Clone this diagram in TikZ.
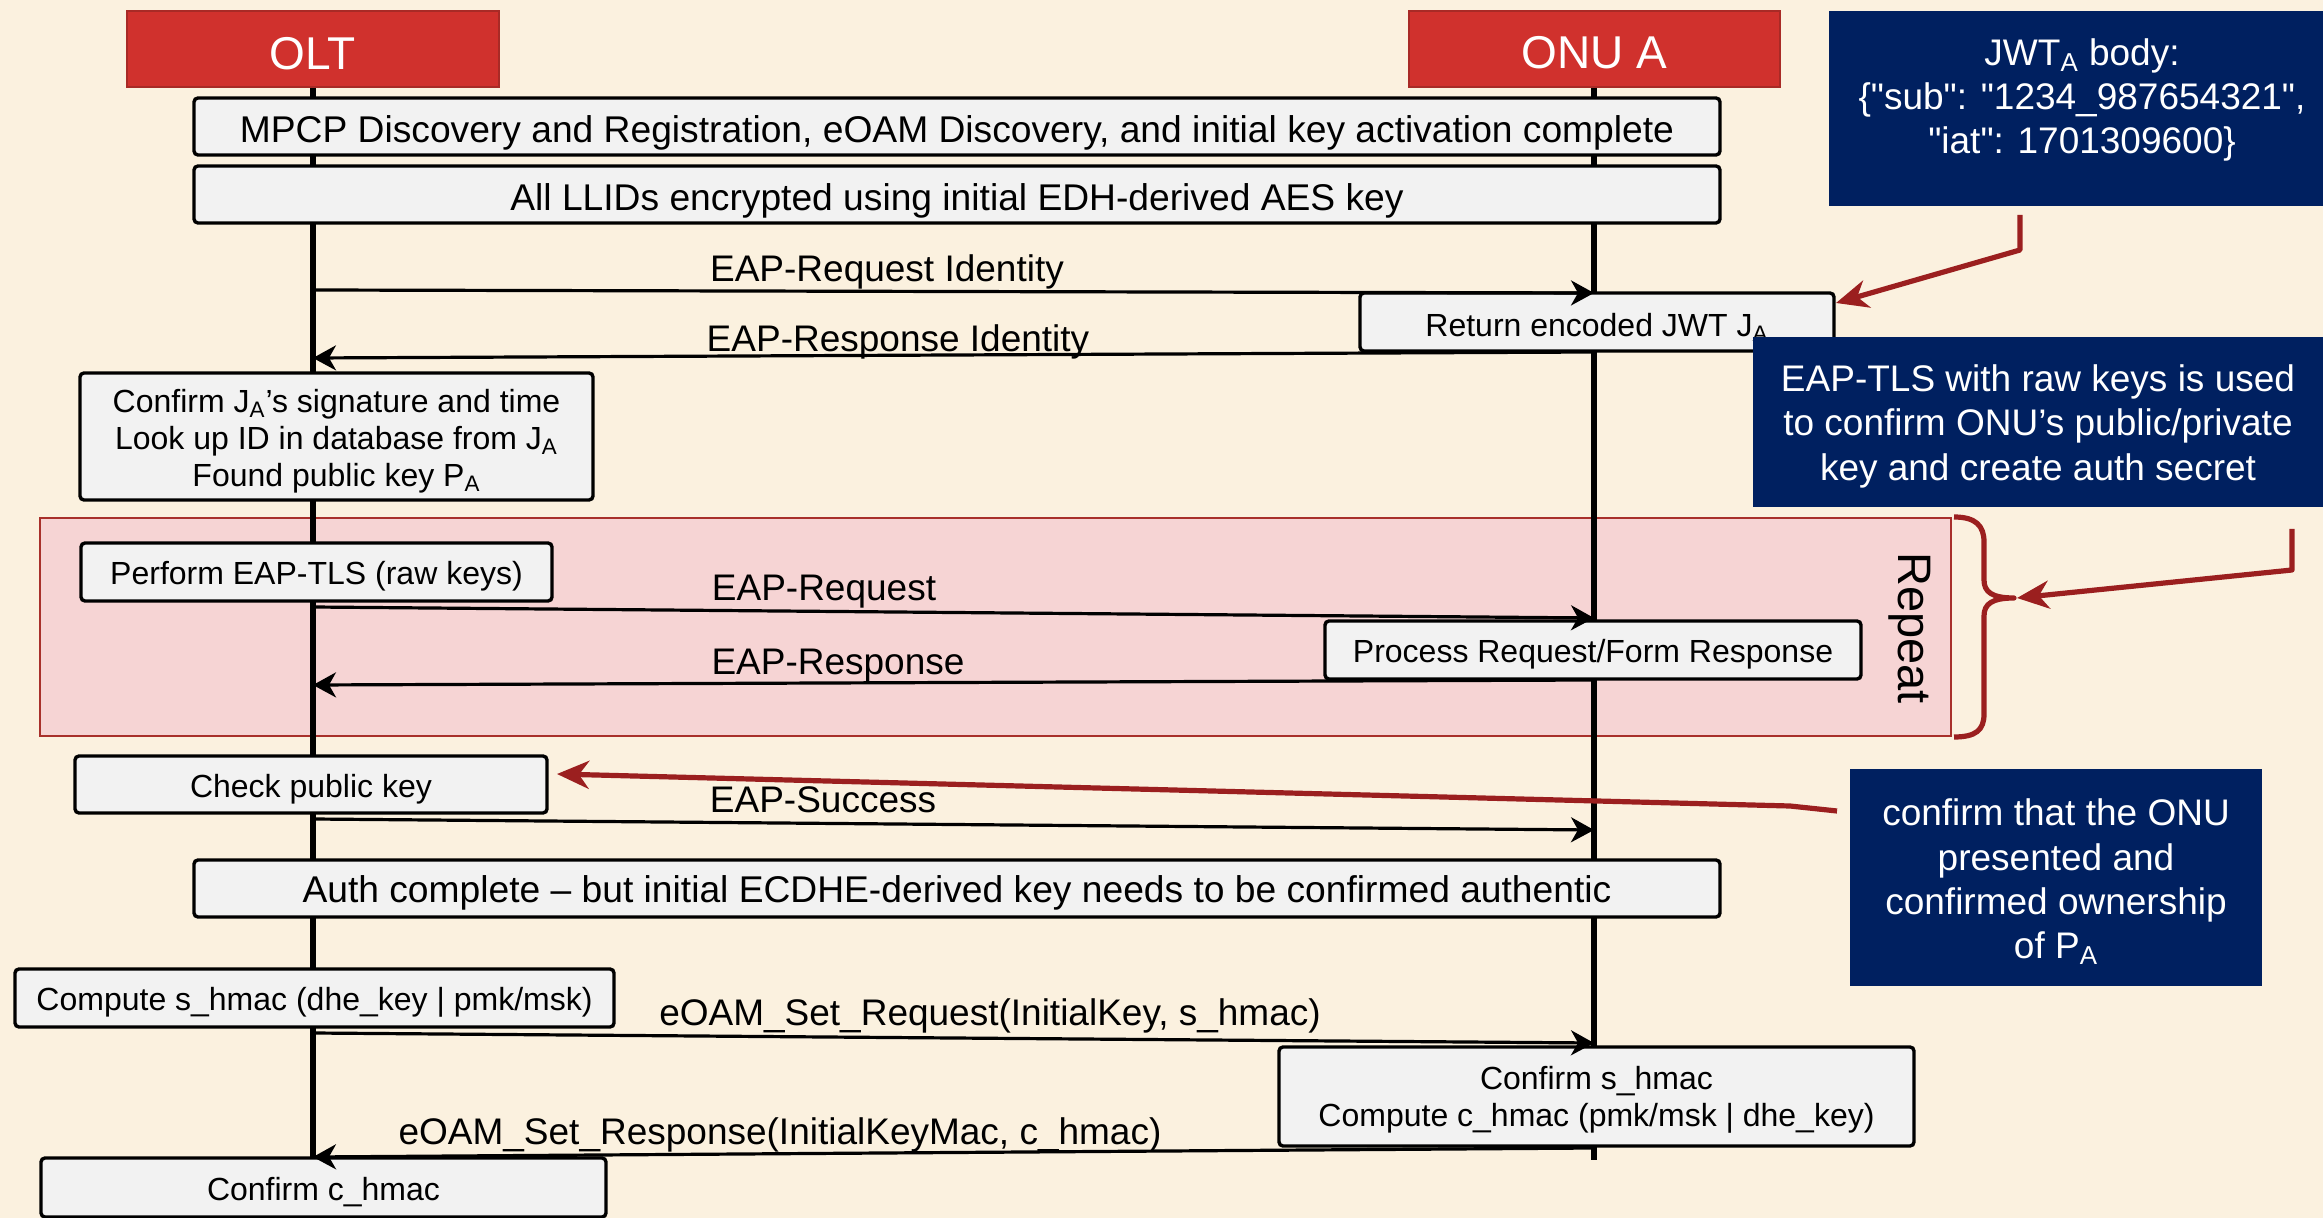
\documentclass[tikz,border=0pt]{standalone}
\usepackage{fontspec}
\setmainfont{Liberation Sans}[Ligatures=TeXOff]
\usetikzlibrary{arrows.meta}
\definecolor{bgcream}{HTML}{FBF1DF}
\definecolor{hdrred}{HTML}{D0312D}
\definecolor{hdredge}{HTML}{A82A26}
\definecolor{navyblue}{HTML}{002060}
\definecolor{boxgray}{HTML}{F2F2F2}
\definecolor{loopfill}{HTML}{F6D4D4}
\definecolor{loopedge}{HTML}{A8302B}
\definecolor{notered}{HTML}{9B1F1F}

\begin{document}
\begin{tikzpicture}[x=0.5pt,y=-0.5pt,
  actor/.style={fill=hdrred, draw=hdredge, line width=1pt, inner sep=0pt},
  actortext/.style={text=white, inner sep=0pt, font=\fontsize{23}{27}\selectfont},
  stepbox/.style={fill=boxgray, draw=black, line width=1.7pt, rounded corners=2pt, inner sep=0pt},
  steptext/.style={inner sep=0pt, align=center, font=\fontsize{16}{18.5}\selectfont},
  widetext/.style={steptext, font=\fontsize{18.6}{22}\selectfont},
  navybox/.style={fill=navyblue, draw=none, inner sep=0pt},
  navytext/.style={text=white, align=center, inner sep=0pt, font=\fontsize{18.5}{22.2}\selectfont},
  loopzone/.style={fill=loopfill, draw=loopedge, line width=1.3pt, inner sep=0pt},
  lifeline/.style={draw=black, line width=2.7pt},
  msg/.style={draw=black, line width=1.6pt, -{Stealth[length=11.5pt, width=12.5pt, inset=3.5pt]}},
  msglabel/.style={anchor=base, inner sep=0pt, font=\fontsize{18.5}{22}\selectfont},
  note/.style={draw=notered, line width=2.6pt, line join=round,
    -{Stealth[length=16pt, width=14pt, inset=5pt]}},
]
\useasboundingbox (0,0) rectangle (2323,1218);
\fill[bgcream] (0,0) rectangle (2323,1218);

% repeat zone
\node[loopzone, minimum width=955.5pt, minimum height=109pt] (rep) at (995.5,627) {};
\node[rotate=-90, inner sep=0pt, font=\fontsize{23.5}{28}\selectfont] (reptext) at (1910,628) {Repeat};

% actors and lifelines
\node[actor, minimum width=186pt, minimum height=38pt] (olt) at (313,49) {};
\node[actor, minimum width=185.5pt, minimum height=38pt] (onu) at (1594.5,49) {};
\node[actortext, yshift=-2.2pt] (oltT) at (olt) {OLT};
\node[actortext, yshift=-1.8pt] (onuT) at (onu) {ONU A};
\coordinate (oltEnd) at (313,1158);
\coordinate (onuEnd) at (1594,1160);
\draw[lifeline] (olt.south) -- (oltEnd);
\draw[lifeline] (onu.south -| onuEnd) -- (onuEnd);

% steps
\node[stepbox, minimum width=763pt, minimum height=28.5pt] (mpcp) at (957,126.5) {};
\node[widetext, yshift=-3pt] (mpcpT) at (mpcp)
  {MPCP Discovery and Registration, eOAM Discovery, and initial key activation complete};
\node[stepbox, minimum width=763pt, minimum height=28.5pt] (llid) at (957,194.5) {};
\node[widetext, yshift=-3pt] (llidT) at (llid)
  {All LLIDs encrypted using initial EDH-derived AES key};
\node[stepbox, minimum width=237pt, minimum height=29pt] (ret) at (1597,322) {};
\node[steptext, yshift=-2.8pt] (retT) at (ret) {Return encoded JWT J\textsubscript{A}};
\node[stepbox, minimum width=256.5pt, minimum height=63.5pt] (conf) at (336.5,436.5) {};
\node[steptext, yshift=-2.2pt] (confT) at (conf)
  {Confirm J\textsubscript{A}’s signature and time\\Look up ID in database from J\textsubscript{A}\\Found public key P\textsubscript{A}};
\node[stepbox, minimum width=235.5pt, minimum height=29pt] (perf) at (316.5,572) {};
\node[steptext, yshift=-2.2pt] (perfT) at (perf) {Perform EAP-TLS (raw keys)};
\node[stepbox, minimum width=268pt, minimum height=29pt] (proc) at (1593,650) {};
\node[steptext, yshift=-2.2pt] (procT) at (proc) {Process Request/Form Response};
\node[stepbox, minimum width=236pt, minimum height=28.5pt] (check) at (311,784.5) {};
\node[steptext, yshift=-2.2pt] (checkT) at (check) {Check public key};
\node[stepbox, minimum width=763pt, minimum height=28.5pt] (auth) at (957,888.5) {};
\node[widetext, yshift=-2.2pt] (authT) at (auth)
  {Auth complete – but initial ECDHE-derived key needs to be confirmed authentic};
\node[stepbox, minimum width=299.5pt, minimum height=29pt] (comp) at (314.5,998) {};
\node[steptext, yshift=-2.2pt] (compT) at (comp) {Compute s\_hmac (dhe\_key | pmk/msk)};
\node[stepbox, minimum width=317.5pt, minimum height=49.5pt] (confs) at (1596.5,1096.5) {};
\node[steptext, yshift=-1.5pt] (confsT) at (confs)
  {Confirm s\_hmac\\Compute c\_hmac (pmk/msk | dhe\_key)};
\node[stepbox, minimum width=282.5pt, minimum height=29.5pt] (confc) at (323.5,1187.5) {};
\node[steptext, yshift=-2.2pt] (confcT) at (confc) {Confirm c\_hmac};

% message end points on the lifelines
\coordinate (m1a) at (313,290);   \coordinate (m1b) at (1594,293);
\coordinate (m2a) at (1594,352);  \coordinate (m2b) at (313,358);
\coordinate (m3a) at (313,607);   \coordinate (m3b) at (1594,618);
\coordinate (m4a) at (1594,680);  \coordinate (m4b) at (313,685);
\coordinate (m5a) at (313,819);   \coordinate (m5b) at (1594,830);
\coordinate (m6a) at (313,1033);  \coordinate (m6b) at (1594,1043);
\coordinate (m7a) at (1594,1148); \coordinate (m7b) at (313,1157);

\draw[msg] (m1a) -- (m1b);
\draw[msg] (m2a) -- (m2b);
\draw[msg] (m3a) -- (m3b);
\draw[msg] (m4a) -- (m4b);
\draw[msg] (m5a) -- (m5b);
\draw[msg] (m6a) -- (m6b);
\draw[msg] (m7a) -- (m7b);

\node[msglabel] (l1) at (887,282) {EAP-Request Identity};
\node[msglabel] (l2) at (898,352) {EAP-Response Identity};
\node[msglabel] (l3) at (824,601) {EAP-Request};
\node[msglabel] (l4) at (838,675) {EAP-Response};
\node[msglabel] (l5) at (823,812) {EAP-Success};
\node[msglabel] (l6) at (990,1025) {eOAM\_Set\_Request(InitialKey, s\_hmac)};
\node[msglabel] (l7) at (780,1144) {eOAM\_Set\_Response(InitialKeyMac, c\_hmac)};

% annotations
\node[navybox, minimum width=247pt, minimum height=97.5pt] (jwt) at (2076,108.5) {};
\node[navytext] (jwtT) at (2082,100)
  {JWT\textsubscript{A} body:\\\{"sub": "1234\_987654321",\\"iat": 1701309600\}};
\node[navybox, minimum width=285pt, minimum height=85pt] (tls) at (2038,422) {};
\node[navytext, yshift=-2.2pt] (tlsT) at (tls)
  {EAP-TLS with raw keys is used\\to confirm ONU’s public/private\\key and create auth secret};
\node[navybox, minimum width=206pt, minimum height=108.5pt] (own) at (2056,877.5) {};
\node[navytext, yshift=-2.2pt] (ownT) at (own)
  {confirm that the ONU\\presented and\\confirmed ownership\\of P\textsubscript{A}};

% brace around the repeat zone
\draw[notered, line width=2.6pt, line join=round]
  (1954,517) .. controls (1976,517) and (1984,526) .. (1984,542)
  -- (1984,580) .. controls (1984,592) and (1992,598) .. (2014,598)
  .. controls (1992,598) and (1984,604) .. (1984,616)
  -- (1984,714) .. controls (1984,730) and (1976,737) .. (1954,737);

% pointers from the annotations
\coordinate (n1a) at (2020,215); \coordinate (n1k) at (2020,250); \coordinate (n1b) at (1836,303);
\coordinate (n2a) at (2292,529); \coordinate (n2k) at (2292,570); \coordinate (n2b) at (2017,598);
\coordinate (n3a) at (1837,811); \coordinate (n3k) at (1790,806); \coordinate (n3b) at (557,774);
\draw[note] (n1a) -- (n1k) -- (n1b);
\draw[note] (n2a) -- (n2k) -- (n2b);
\draw[note] (n3a) -- (n3k) -- (n3b);
\end{tikzpicture}
\end{document}
